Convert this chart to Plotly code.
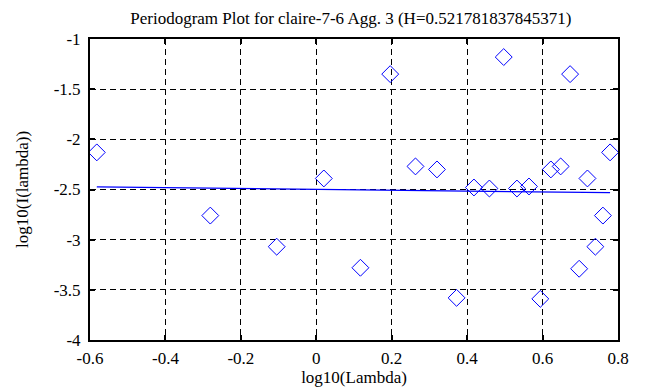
import plotly.graph_objects as go

log_lambda = [-0.582, -0.281, -0.105, 0.020, 0.117, 0.196, 0.263, 0.320, 0.372, 0.418,
              0.459, 0.497, 0.532, 0.564, 0.594, 0.622, 0.648, 0.673, 0.697, 0.719,
              0.740, 0.760, 0.779]
log_I = [-2.13, -2.76, -3.07, -2.39, -3.28, -1.35, -2.27, -2.30, -3.58, -2.48,
         -2.49, -1.18, -2.49, -2.47, -3.59, -2.30, -2.27, -1.35, -3.29, -2.39,
         -3.07, -2.76, -2.13]
fit_x = [-0.582, 0.779]
fit_y = [-2.473, -2.532]

x_ticks = [-0.6, -0.4, -0.2, 0, 0.2, 0.4, 0.6, 0.8]
x_ticktext = ["-0.6", "-0.4", "-0.2", "0", "0.2", "0.4", "0.6", "0.8"]
y_ticks = [-4, -3.5, -3, -2.5, -2, -1.5, -1]
y_ticktext = ["-4", "-3.5", "-3", "-2.5", "-2", "-1.5", "-1"]

title = "Periodogram Plot for claire-7-6 Agg. 3 (H=0.521781837845371)"

SERIF = "Liberation Serif, serif"
fig = go.Figure()
fig.add_trace(go.Scatter(x=log_lambda, y=log_I, mode="markers",
                         marker=dict(symbol="diamond-open", size=13, color="#0000ff",
                                     line=dict(width=1, color="#0000ff")),
                         showlegend=False))
fig.add_trace(go.Scatter(x=fit_x, y=fit_y, mode="lines",
                         line=dict(color="#0000ff", width=1.3), showlegend=False))

def f(size=17):
    return dict(family=SERIF, size=size, color="black")

axis_common = dict(showline=True, linecolor="black", linewidth=2, mirror="allticks",
                   ticks="inside", ticklen=5, tickwidth=2, tickcolor="black",
                   showgrid=True, gridcolor="black", gridwidth=1, griddash="6px,4px",
                   zeroline=False, automargin=False)
fig.update_layout(
    width=653, height=387,
    margin=dict(l=82, r=43, t=31, b=55),
    paper_bgcolor="white", plot_bgcolor="white",
    font=f(),
    title=dict(text=title, x=0.525, xanchor="center", y=0.99, yanchor="top",
               font=f(), automargin=False),
    xaxis=dict(range=[-0.6, 0.8], tickvals=x_ticks, ticktext=x_ticktext,
               tickfont=f(17), ticklabelstandoff=2,
               title=dict(text="log10(Lambda)", standoff=0, font=f()),
               **axis_common),
    yaxis=dict(range=[-4, -1], tickvals=y_ticks, ticktext=y_ticktext,
               tickfont=f(17), ticklabelstandoff=4,
               **axis_common),
    annotations=[dict(text="log10(I(lambda))", xref="paper", yref="paper",
                      x=-0.128, y=0.5, xanchor="center", yanchor="middle",
                      textangle=-90, showarrow=False, font=f())],
)
fig.write_html("out.html")
